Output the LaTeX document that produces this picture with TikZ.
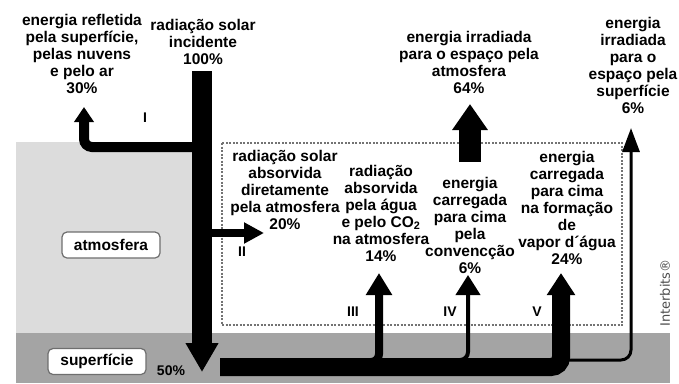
\documentclass[tikz,border=0pt]{standalone}
\usepackage{fontspec}
\setmainfont{Liberation Sans}
\newfontfamily\creditfont{DejaVu Sans}
\usetikzlibrary{arrows.meta}
\definecolor{airgray}{HTML}{DCDCDC}
\definecolor{soilgray}{HTML}{A4A4A4}
\definecolor{boxline}{HTML}{6E6E6E}

\begin{document}
\begin{tikzpicture}[x=1pt, y=-1pt, every node/.style={font=\fontsize{15.5}{17}\selectfont\bfseries, align=center, inner sep=0pt},
  numeral/.style={font=\fontsize{14}{14}\selectfont\bfseries},
  layerbox/.style={draw=boxline, fill=white, rounded corners=5pt, line width=1.2pt, minimum width=98pt, minimum height=26pt}]
\useasboundingbox (0,0) rectangle (679,383);
\fill[airgray] (16,142) rectangle (192,333);
\fill[soilgray] (16,333) rectangle (670,383);
\draw[black!55, line width=2pt, dash pattern=on 2pt off 1.5pt] (222,143) rectangle (622,325);

\node (reflected) at (82,54) {energia refletida\\pela superfície,\\pelas nuvens\\e pelo ar\\30\%};
\node (incident) at (203,42) {radiação solar\\incidente\\100\%};
\node (atmout) at (469,62) {energia irradiada\\para o espaço pela\\atmosfera\\64\%};
\node (surfout) at (633,65) {energia\\irradiada\\para o\\espaço pela\\superfície\\6\%};
\node (direct) at (285,190) {radiação solar\\absorvida\\diretamente\\pela atmosfera\\20\%};
\node (gases) at (381,213) {radiação\\absorvida\\pela água\\e pelo CO\textsubscript{2}\\na atmosfera\\14\%};
\node (convect) at (470,225) {energia\\carregada\\para cima\\pela\\convencção\\6\%};
\node (vapour) at (567,208) {energia\\carregada\\para cima\\na formação\\de\\vapor d´água\\24\%};

\node[numeral] (n1) at (145,118) {I};
\node[numeral] (n2) at (242,252) {II};
\node[numeral] (n3) at (353,312) {III};
\node[numeral] (n4) at (450,312) {IV};
\node[numeral] (n5) at (537,312) {V};

\node[layerbox] (atmos) at (111,245) {atmosfera};
\node[layerbox] (surface) at (97,361.5) {superfície};
\node[numeral] (half) at (171,371) {50\%};
\node[rotate=90, font=\creditfont\fontsize{13}{13}\selectfont, text=black!70] (credit) at (665,293) {Interbits®};

\coordinate (sun) at (202,71);
\coordinate (ground) at (202,372);
\coordinate (split) at (202,147);
\coordinate (space) at (84,107);
\coordinate (fork) at (202,233);
\coordinate (air) at (264,233);
\coordinate (convbase) at (470,162);
\coordinate (convtop) at (470,104);
\coordinate (barstart) at (220,367);

\draw[line width=10pt, rounded corners=8pt, -{Triangle[length=15pt, width=19pt]}] (split) -| (space);
\draw[line width=8pt, -{Triangle[length=20pt, width=20pt]}] (fork) -- (air);
\draw[line width=20pt, -{Triangle[length=29pt, width=31pt]}] (sun) -- (ground);
\draw[line width=22pt, -{Triangle[length=26pt, width=34pt]}] (convbase) -- (convtop);

\draw[line width=18pt, rounded corners=10pt, -{Triangle[length=22pt, width=27pt]}] (barstart) -| (561,273);
\draw[line width=8pt, rounded corners=8pt, -{Triangle[length=22pt, width=25pt]}] (340,362) -| (379,273);
\draw[line width=4pt, rounded corners=8pt, -{Triangle[length=20pt, width=24pt]}] (430,360) -| (468,275);
\draw[line width=3pt, rounded corners=10pt, -{Triangle[length=24pt, width=17pt]}] (540,360) -| (631,128);
\end{tikzpicture}
\end{document}
